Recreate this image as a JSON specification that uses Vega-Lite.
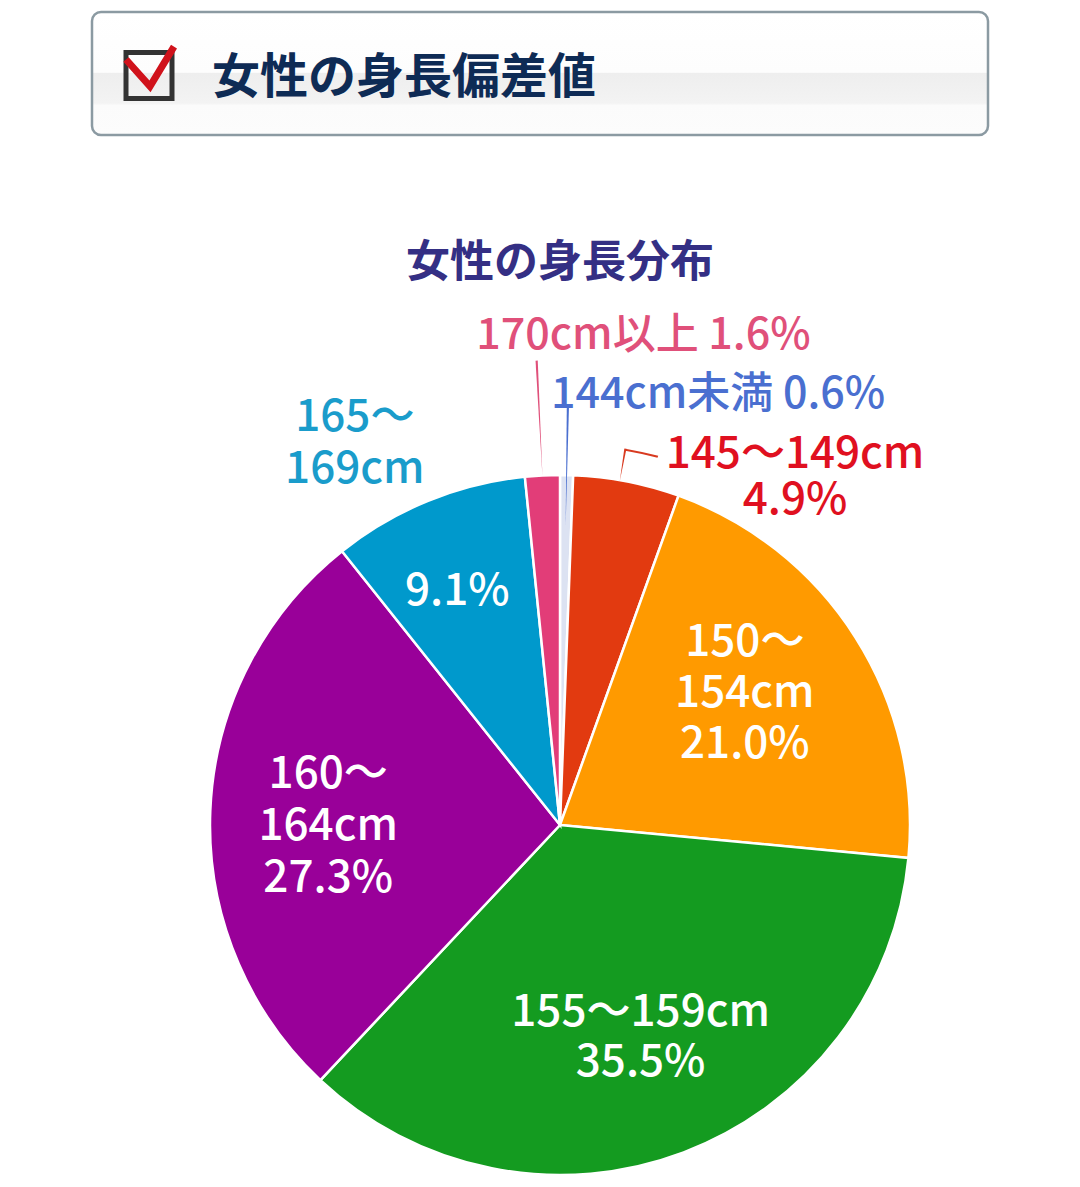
{
  "$schema": "https://vega.github.io/schema/vega-lite/v6.json",
  "background": "white",
  "padding": {"left": 90, "top": 10, "right": 0, "bottom": 0},
  "autosize": {"type": "pad"},
  "bounds": "flush",
  "spacing": 340,
  "config": {"font": "Noto Sans CJK JP", "view": {"stroke": null}, "text": {"fontWeight": 500}},
  "datasets": {
    "header": [{"title": "女性の身長偏差値"}],
    "heights": [
      {"order": 1, "category": "144cm未満", "pct": 0.6, "inside": "", "outside": "144cm未満 0.6%"},
      {"order": 2, "category": "145～149cm", "pct": 4.9, "inside": "", "outside": "145～149cm\n4.9%"},
      {"order": 3, "category": "150～154cm", "pct": 21.0, "inside": "150～\n154cm\n21.0%", "outside": ""},
      {"order": 4, "category": "155～159cm", "pct": 35.5, "inside": "155～159cm\n35.5%", "outside": ""},
      {"order": 5, "category": "160～164cm", "pct": 27.3, "inside": "160～\n164cm\n27.3%", "outside": ""},
      {"order": 6, "category": "165～169cm", "pct": 9.1, "inside": "9.1%", "outside": "165～\n169cm"},
      {"order": 7, "category": "170cm以上", "pct": 1.6, "inside": "", "outside": "170cm以上 1.6%"}
    ]
  },
  "vconcat": [
    {
      "width": 896,
      "height": 123,
      "data": {"name": "header"},
      "view": {
        "stroke": "#8b9aa2",
        "strokeWidth": 2.5,
        "cornerRadius": 9,
        "fill": {
          "gradient": "linear",
          "x1": 0, "y1": 0, "x2": 0, "y2": 1,
          "stops": [
            {"offset": 0, "color": "#ffffff"},
            {"offset": 0.49, "color": "#fdfdfd"},
            {"offset": 0.5, "color": "#eeeeee"},
            {"offset": 0.74, "color": "#f3f3f3"},
            {"offset": 0.76, "color": "#fbfbfb"},
            {"offset": 1, "color": "#fcfcfc"}
          ]
        }
      },
      "layer": [
        {
          "mark": {
            "type": "point",
            "shape": "square",
            "filled": false,
            "size": 2116,
            "strokeWidth": 5,
            "opacity": 1,
            "color": "#333333",
            "xOffset": -391,
            "yOffset": 2
          }
        },
        {
          "mark": {
            "type": "point",
            "shape": "M-1,-0.29L0,0.83L1,-0.83",
            "filled": false,
            "size": 2304,
            "strokeWidth": 7,
            "opacity": 1,
            "strokeJoin": "miter",
            "color": "#d0121b",
            "xOffset": -390,
            "yOffset": -7
          }
        },
        {
          "mark": {
            "type": "text",
            "align": "left",
            "baseline": "middle",
            "dx": -328,
            "dy": 5,
            "fontSize": 48,
            "fontWeight": "bold",
            "color": "#0e2b55"
          },
          "encoding": {"text": {"field": "title"}}
        }
      ]
    },
    {
      "width": 936,
      "height": 700,
      "data": {"name": "heights"},
      "title": {
        "text": "女性の身長分布",
        "fontSize": 44,
        "fontWeight": "bold",
        "color": "#342f84",
        "anchor": "middle",
        "frame": "group",
        "offset": 28
      },
      "encoding": {
        "theta": {"field": "pct", "type": "quantitative", "stack": true},
        "order": {"field": "order", "type": "quantitative"}
      },
      "layer": [
        {
          "mark": {"type": "arc", "outerRadius": 350, "stroke": "white", "strokeWidth": 2.5},
          "encoding": {
            "color": {
              "field": "category",
              "type": "nominal",
              "legend": null,
              "scale": {
                "domain": ["144cm未満", "145～149cm", "150～154cm", "155～159cm", "160～164cm", "165～169cm", "170cm以上"],
                "range": ["#dce2f2", "#e23a10", "#ff9a00", "#149b20", "#990099", "#0099cc", "#e23d78"]
              }
            }
          }
        },
        {
          "mark": {"type": "arc", "innerRadius": 349, "outerRadius": 465, "padAngle": 0.0766, "color": "#e0507a"},
          "encoding": {
            "opacity": {"condition": {"test": "datum.category === '170cm以上'", "value": 1}, "value": 0}
          }
        },
        {
          "mark": {"type": "arc", "innerRadius": 300, "outerRadius": 420, "padAngle": 0.0264, "color": "#4a6fd0"},
          "encoding": {
            "opacity": {"condition": {"test": "datum.category === '144cm未満'", "value": 1}, "value": 0}
          }
        },
        {
          "mark": {"type": "arc", "innerRadius": 349, "outerRadius": 382, "thetaOffset": -0.0196, "padAngle": 0.2227, "color": "#d83a20"},
          "encoding": {
            "opacity": {"condition": {"test": "datum.category === '145～149cm'", "value": 1}, "value": 0}
          }
        },
        {
          "mark": {"type": "arc", "innerRadius": 380, "outerRadius": 382, "thetaOffset": 0.0244, "padAngle": 0.1557, "color": "#d83a20"},
          "encoding": {
            "opacity": {"condition": {"test": "datum.category === '145～149cm'", "value": 1}, "value": 0}
          }
        },
        {
          "mark": {"type": "text", "radius": 226, "dx": -6, "dy": -61, "fontSize": 44, "lineBreak": "\n", "lineHeight": 51, "color": "white", "baseline": "middle"},
          "encoding": {
            "text": {"condition": {"test": "datum.category === '150～154cm'", "field": "inside"}, "value": ""}
          }
        },
        {
          "mark": {"type": "text", "radius": 228, "dy": -25, "fontSize": 44, "lineBreak": "\n", "lineHeight": 50, "color": "white", "baseline": "middle"},
          "encoding": {
            "text": {"condition": {"test": "datum.category === '155～159cm'", "field": "inside"}, "value": ""}
          }
        },
        {
          "mark": {"type": "text", "radius": 232, "dy": -41, "fontSize": 44, "lineBreak": "\n", "lineHeight": 52, "color": "white", "baseline": "middle"},
          "encoding": {
            "text": {"condition": {"test": "datum.category === '160～164cm'", "field": "inside"}, "value": ""}
          }
        },
        {
          "mark": {"type": "text", "radius": 254, "dx": -7, "dy": 2, "fontSize": 44, "color": "white", "baseline": "middle"},
          "encoding": {
            "text": {"condition": {"test": "datum.category === '165～169cm'", "field": "inside"}, "value": ""}
          }
        },
        {
          "mark": {"type": "text", "radius": 380, "dx": -62, "dy": -55, "fontSize": 44, "lineBreak": "\n", "lineHeight": 52, "color": "#1a9ccb", "baseline": "middle"},
          "encoding": {
            "text": {"condition": {"test": "datum.category === '165～169cm'", "field": "outside"}, "value": ""}
          }
        },
        {
          "mark": {"type": "text", "radius": 489, "dx": 108, "dy": -1, "fontSize": 43, "color": "#e0507a", "baseline": "middle"},
          "encoding": {
            "text": {"condition": {"test": "datum.category === '170cm以上'", "field": "outside"}, "value": ""}
          }
        },
        {
          "mark": {"type": "text", "radius": 430, "dx": 150, "fontSize": 43, "color": "#4a6fd0", "baseline": "middle"},
          "encoding": {
            "text": {"condition": {"test": "datum.category === '144cm未満'", "field": "outside"}, "value": ""}
          }
        },
        {
          "mark": {"type": "text", "radius": 420, "dx": 155, "dy": 42, "fontSize": 44, "lineBreak": "\n", "lineHeight": 46, "color": "#e01020", "baseline": "middle"},
          "encoding": {
            "text": {"condition": {"test": "datum.category === '145～149cm'", "field": "outside"}, "value": ""}
          }
        }
      ]
    }
  ]
}
